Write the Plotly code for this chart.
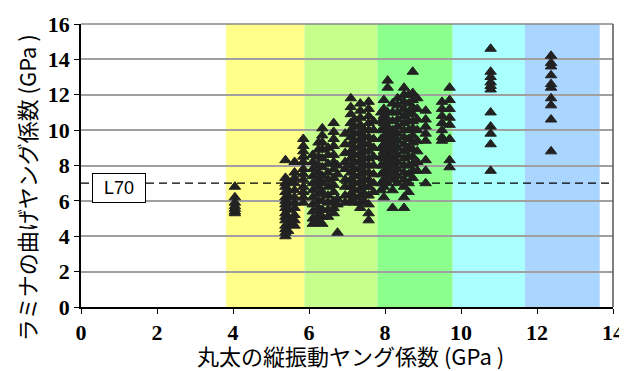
import plotly.graph_objects as go

# Colored bands along x (log dynamic Young's modulus classes)
band_start = [3.82, 5.88, 7.8, 9.78, 11.68]
band_end = [5.88, 7.8, 9.78, 11.68, 13.65]
band_color = ["#FFFF8A", "#C6FF8C", "#8DFF8D", "#AAFFFF", "#AAD5FF"]

# Scatter data: column x positions and y values in each column
col_x = [4.05, 5.38, 5.45, 5.62, 5.85,
         6.1, 6.25, 6.35, 6.5, 6.65, 6.75, 6.95, 7.1, 7.2, 7.35, 7.45, 7.57, 7.7,
         7.9, 7.97, 8.07, 8.2, 8.33, 8.5, 8.62, 8.73, 8.85, 9.07, 9.5, 9.7,
         10.78, 12.37]
col_y = [
    [6.8, 6.2, 5.9, 5.7, 5.55, 5.4, 5.3],
    [8.3, 7.3, 7.0, 6.8, 6.5, 6.2, 6.0, 5.8, 5.6, 5.3, 5.1, 4.9, 4.6, 4.4, 4.2, 4.0],
    [7.1, 6.6, 6.3, 5.9, 5.5, 5.0, 4.7, 4.3],
    [8.2, 7.6, 7.3, 7.0, 6.6, 6.2, 5.9, 5.6, 5.2, 4.9, 4.6],
    [9.5, 9.1, 8.8, 8.5, 8.2, 7.8, 7.5, 7.2, 6.8, 6.5, 6.2, 5.9],
    [8.6, 8.2, 7.8, 7.4, 7.0, 6.6, 6.2, 5.8, 5.4, 5.0, 4.7],
    [9.3, 8.9, 8.5, 8.0, 7.6, 7.2, 6.8, 6.4, 6.0, 5.6, 5.2, 4.8],
    [10.1, 9.7, 9.3, 8.9, 8.4, 7.9, 7.4, 7.0, 6.5, 6.0, 5.5, 5.1, 4.7],
    [9.0, 8.6, 8.1, 7.6, 7.2, 6.8, 6.3, 5.9, 5.5, 5.1],
    [10.4, 9.9, 9.5, 9.1, 8.6, 8.2, 7.8, 7.3, 6.9, 6.5, 6.0, 5.6, 5.3],
    [8.0, 7.5, 6.1, 5.8, 4.2],
    [9.8, 9.2, 8.7, 8.2, 7.8, 7.2, 6.8, 6.3, 5.9],
    [11.8, 11.3, 10.9, 10.4, 10.0, 9.6, 9.2, 8.8, 8.4, 8.0, 7.6, 7.2, 6.8, 6.4, 6.0],
    [10.6, 10.2, 9.8, 9.4, 9.0, 8.6, 8.2, 7.8, 7.4, 7.0, 6.6, 6.2, 5.9],
    [11.5, 11.1, 10.7, 10.3, 9.9, 9.5, 9.1, 8.7, 8.3, 7.9, 7.5, 7.1, 6.7, 6.3, 5.9, 5.6],
    [10.0, 9.6, 9.2, 8.8, 8.4, 8.0, 7.6, 7.2, 6.8, 6.4, 6.0],
    [11.6, 11.2, 10.8, 10.4, 10.0, 9.6, 9.2, 8.8, 8.4, 8.0, 7.6, 7.2, 6.8, 6.3, 5.8, 5.3, 4.9],
    [10.5, 10.0, 9.5, 9.0, 8.5, 8.0, 7.5, 7.0, 6.5],
    [11.0, 10.5, 10.0, 9.5, 9.0, 8.5, 8.0, 7.5, 7.0, 6.6],
    [11.7, 11.2, 10.8, 10.4, 10.0, 9.6, 9.2, 8.8, 8.4, 8.0, 7.6, 7.2, 6.8, 6.2],
    [12.8, 12.4, 11.0, 10.6, 10.2, 9.8, 9.4, 9.0, 8.6, 8.2, 7.8, 7.4, 7.0],
    [11.5, 11.0, 10.5, 10.0, 9.6, 9.2, 8.8, 8.4, 8.0, 7.6, 7.2, 6.6, 5.6],
    [11.8, 11.4, 11.0, 10.6, 10.2, 9.8, 9.4, 9.0, 8.6, 8.2, 7.8, 7.4, 7.0],
    [12.4, 12.0, 11.6, 11.2, 10.8, 10.4, 10.0, 9.6, 9.2, 8.8, 8.4, 8.0, 7.6, 7.2, 6.8, 6.2, 5.6],
    [12.0, 11.5, 11.0, 10.5, 10.0, 9.5, 9.0, 8.5, 8.0, 7.5, 7.0, 6.5],
    [13.3, 12.1, 11.7, 11.3, 10.9, 10.5, 10.1, 9.7, 9.3, 8.9, 8.5, 8.1, 7.7, 7.3],
    [11.8, 11.2, 10.6, 10.0, 9.4, 8.8, 8.2, 7.7],
    [11.1, 10.6, 10.2, 9.8, 9.4, 8.3, 7.7, 7.0],
    [11.6, 11.2, 10.8, 10.4, 10.0, 9.6, 9.4],
    [12.4, 11.7, 11.2, 10.7, 10.3, 9.5, 8.3, 7.9],
    [14.6, 13.3, 13.0, 12.7, 12.5, 12.3, 11.0, 10.2, 9.8, 9.2, 7.7],
    [14.2, 13.8, 13.6, 13.1, 12.6, 12.4, 11.8, 11.4, 10.6, 8.8],
]

limit_value = 7.0
limit_label = "L70"
x_ticks = [0, 2, 4, 6, 8, 10, 12, 14]
y_ticks = [0, 2, 4, 6, 8, 10, 12, 14, 16]
x_title = "丸太の縦振動ヤング係数 (GPa )"
y_title = "ラミナの曲げヤング係数 (GPa )"

xs, ys = [], []
for cx, cy in zip(col_x, col_y):
    for v in cy:
        xs.append(cx)
        ys.append(v)

fig = go.Figure()

shapes = []
for s, e, c in zip(band_start, band_end, band_color):
    shapes.append(dict(type="rect", xref="x", yref="y", x0=s, x1=e, y0=0, y1=16,
                       fillcolor=c, line=dict(width=0), layer="below"))

fig.add_trace(go.Scatter(x=[0, 14], y=[limit_value, limit_value], mode="lines",
                         line=dict(color="black", width=1.2, dash="8px,5px"),
                         hoverinfo="skip", showlegend=False))

fig.add_trace(go.Scatter(x=xs, y=ys, mode="markers",
                         marker=dict(symbol="triangle-up", size=10, color="#222222",
                                     line=dict(color="#222222", width=1)),
                         showlegend=False))

# frame (top/right gray)
shapes.append(dict(type="line", xref="paper", yref="paper", x0=0, x1=1, y0=1, y1=1,
                   line=dict(color="#888888", width=1.5), layer="above"))
shapes.append(dict(type="line", xref="paper", yref="paper", x0=1, x1=1, y0=0, y1=1,
                   line=dict(color="#555555", width=1.5), layer="above"))

tick_font = dict(family="Liberation Serif", size=22, color="black")
title_font = dict(family="Noto Sans CJK JP", size=22, color="black")

# the page body has an 8px margin, so the figure is sized/margined to compensate
fig.update_layout(
    width=619, height=363,
    margin=dict(l=73, r=14, t=16, b=64),
    paper_bgcolor="white", plot_bgcolor="white",
    shapes=shapes,
    annotations=[
        dict(x=0.99, y=6.75, xref="x", yref="y", text=limit_label,
             showarrow=False, bgcolor="white", bordercolor="black",
             borderwidth=1, width=50, height=26,
             font=dict(family="Liberation Sans", size=18, color="black")),
        dict(x=0.507, y=-0.168, xref="paper", yref="paper", text=x_title,
             showarrow=False, xanchor="center", yanchor="middle", font=title_font),
        dict(x=-0.103, y=0.42, xref="paper", yref="paper", text=y_title, textangle=-90,
             showarrow=False, xanchor="center", yanchor="middle", font=title_font),
    ],
    xaxis=dict(range=[0, 14], tickvals=x_ticks,
               ticktext=[f"<b>{t}</b>" for t in x_ticks],
               showgrid=False, zeroline=False, automargin=False,
               showline=True, linecolor="black", linewidth=1.5,
               ticks="outside", ticklen=5, tickcolor="black", tickfont=tick_font),
    yaxis=dict(range=[0, 16], tickvals=y_ticks,
               ticktext=[f"<b>{t}</b>" for t in y_ticks],
               showgrid=True, gridcolor="#A0A0A0",
               gridwidth=1.5, zeroline=False, automargin=False,
               showline=True, linecolor="black", linewidth=1.5,
               ticks="outside", ticklen=5, tickcolor="black", tickfont=tick_font),
)

fig.write_html("out.html")
